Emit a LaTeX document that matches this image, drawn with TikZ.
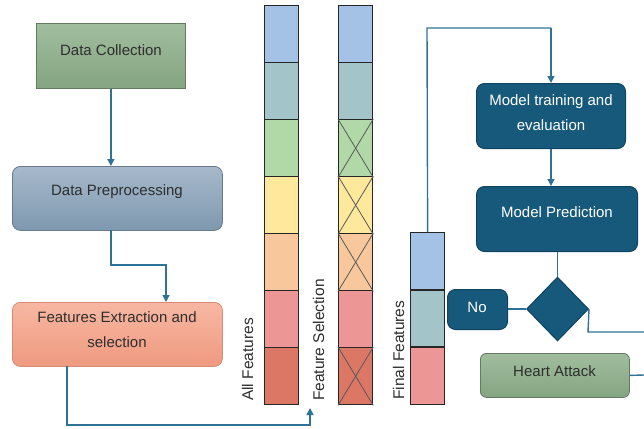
\documentclass[tikz,border=0pt]{standalone}
\usepackage{fontspec}
\setmainfont{Liberation Sans}
\usetikzlibrary{arrows.meta,shapes.geometric,calc}
\definecolor{flow}{HTML}{2E7397}
\definecolor{darkbox}{HTML}{16597B}
\definecolor{darkedge}{HTML}{0E4461}
\definecolor{cBlue}{HTML}{A4C2E6}
\definecolor{cTeal}{HTML}{A3C4C8}
\definecolor{cGreen}{HTML}{B1D9A8}
\definecolor{cYellow}{HTML}{FDE89C}
\definecolor{cPeach}{HTML}{F8C89C}
\definecolor{cPink}{HTML}{EC9696}
\definecolor{cRed}{HTML}{DC7766}
\definecolor{grnTop}{HTML}{A0BE9D}
\definecolor{grnBot}{HTML}{85A482}
\definecolor{preTop}{HTML}{A7B9CB}
\definecolor{preBot}{HTML}{7E98AF}
\definecolor{extTop}{HTML}{F7B7A2}
\definecolor{extBot}{HTML}{EF9A80}
\tikzset{
  txt/.style={font=\fontsize{15}{20}\selectfont, text=black!82, align=center, inner sep=0pt},
  wtxt/.style={txt, text=white},
  greenbox/.style={draw=grnBot!75!black, line width=0.8pt, top color=grnTop, bottom color=grnBot},
  softbox/.style={line width=0.8pt, rounded corners=8pt, minimum width=210pt, minimum height=64pt, anchor=north west},
  flowline/.style={draw=flow, line width=1.4pt},
  flowarrow/.style={flowline, -{Triangle[length=7pt,width=7pt]}},
  darkstep/.style={draw=darkedge, line width=1pt, fill=darkbox, rounded corners=8pt, anchor=north west},
  cell/.style={draw=black!85, line width=1.3pt, minimum width=34pt, minimum height=57.1pt, inner sep=0pt, anchor=north west},
  xmark/.style={draw=black!65, line width=0.8pt},
  rotlbl/.style={rotate=90, font=\fontsize{15.5}{18}\selectfont, text=black!82, anchor=base west, inner sep=0pt}
}
\begin{document}
\begin{tikzpicture}[x=1pt,y=-1pt]
\useasboundingbox (0,0) rectangle (644,428);

% left pipeline
\node[greenbox, minimum width=149pt, minimum height=65pt, anchor=north west] (collect) at (36,23) {};
\node[txt] (collectTxt) at (111,50) {Data Collection};
\node[softbox, draw=preBot!80!black, top color=preTop, bottom color=preBot] (prep) at (12,166) {};
\node[txt] (prepTxt) at (117,192) {Data Preprocessing};
\node[softbox, draw=extBot!90!black, top color=extTop, bottom color=extBot] (extract) at (12,302) {};
\node[txt] (extractTxt) at (117,330) {Features Extraction and\\[5pt]selection};

\draw[flowarrow] (collect.south) -- (prep.north -| collect.south);
\coordinate (p1) at (111,230);
\draw[flowarrow] (p1) -- (111,265) -- (166,265) -- (166,302);

% feature columns
\foreach \c [count=\i] in {cBlue,cTeal,cGreen,cYellow,cPeach,cPink,cRed}{
  \node[cell, fill=\c] (all\i) at (264,{5+(\i-1)*57}) {};
  \node[cell, fill=\c] (sel\i) at (338,{5+(\i-1)*57}) {};
}
\foreach \i in {3,4,5,7}{
  \draw[xmark] (sel\i.north west) -- (sel\i.south east);
  \draw[xmark] (sel\i.north east) -- (sel\i.south west);
}
\node[rotlbl] (allLbl) at (253,401) {All Features};
\node[rotlbl] (selLbl) at (324,401) {Feature Selection};
\coordinate (selArrow) at (310,408);
\coordinate (e1) at (67,366);
\draw[flowarrow] (e1) -- (67,425) -- (310,425) -- (selArrow);

% final features
\foreach \c [count=\i] in {cBlue,cTeal,cPink}{
  \node[cell, fill=\c] (fin\i) at (410,{232+(\i-1)*57.3}) {};
}
\node[rotlbl] (finLbl) at (404,400) {Final Features};

% model stages
\node[darkstep, minimum width=149pt, minimum height=65pt] (train) at (476,83) {};
\node[wtxt] (trainTxt) at (551,113) {Model training and\\[5pt]evaluation};
\node[darkstep, minimum width=161pt, minimum height=65pt] (pred) at (476,186) {};
\node[wtxt] (predTxt) at (557,212) {Model Prediction};
\draw[flowline] (fin1.north) -- (427,28) -- (551,28);
\draw[flowarrow] (551,28) -- (train.north -| 551,0);
\draw[flowarrow] (train.south -| 551,0) -- (pred.north -| 551,0);

\node[diamond, draw=darkedge, line width=1pt, fill=darkbox, minimum width=62pt, minimum height=64pt, inner sep=0pt] (dec) at (557.5,309) {};
\draw[flowline] (pred.south -| dec.north) -- (dec.north);

\node[darkstep, minimum width=60pt, minimum height=40pt] (no) at (447,289) {};
\node[wtxt] (noTxt) at (477,307) {No};
\draw[flowline] (dec.west) -- (no.east |- dec.west);

\coordinate (edgeA) at (644,332);
\draw[flowline] (dec.east) -- (588,332) -- (edgeA);

\node[greenbox, rounded corners=6pt, minimum width=149pt, minimum height=44pt, anchor=north west] (heart) at (480,353) {};
\node[txt] (heartTxt) at (554.5,371) {Heart Attack};
\coordinate (edgeB) at (644,375);
\draw[flowline] (heart.east) -- (edgeB);
\end{tikzpicture}
\end{document}
